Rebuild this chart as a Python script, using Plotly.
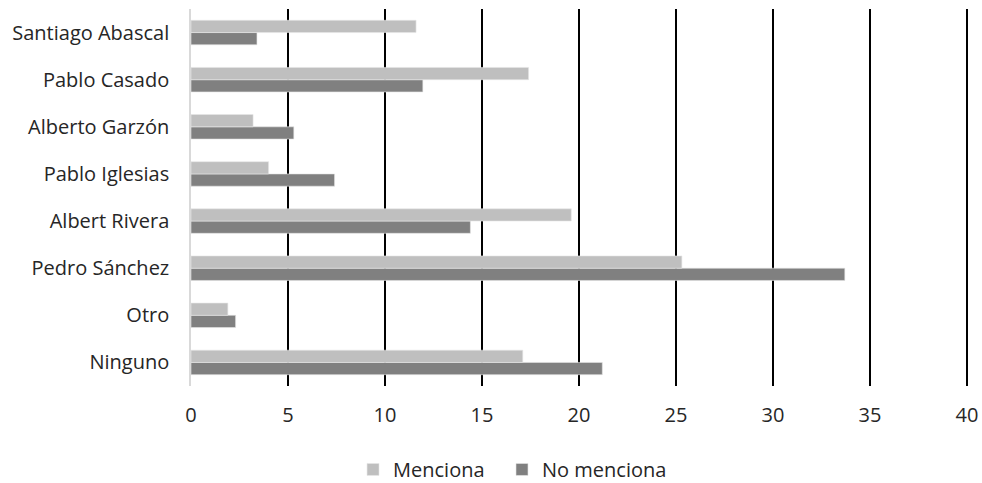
import plotly.graph_objects as go

categories = ["Santiago Abascal", "Pablo Casado", "Alberto Garzón", "Pablo Iglesias",
              "Albert Rivera", "Pedro Sánchez", "Otro", "Ninguno"]
menciona = [11.6, 17.4, 3.2, 4.0, 19.6, 25.3, 1.9, 17.1]
no_menciona = [3.4, 11.95, 5.3, 7.4, 14.4, 33.7, 2.3, 21.2]
x_ticks = [0, 5, 10, 15, 20, 25, 30, 35, 40]

fig = go.Figure()
fig.add_trace(go.Bar(y=categories, x=no_menciona, name="No menciona", orientation="h",
                     marker=dict(color="#808080", line=dict(color="#e6e6e6", width=0.6)),
                     legend="legend2"))
fig.add_trace(go.Bar(y=categories, x=menciona, name="Menciona", orientation="h",
                     marker=dict(color="#bfbfbf", line=dict(color="#e6e6e6", width=0.6)),
                     legend="legend"))

font_family = "Open Sans, Noto Sans, sans-serif"
leg_common = dict(orientation="h", xref="container", yref="container", y=0.028,
                  xanchor="left", yanchor="middle", font=dict(size=20), itemwidth=30,
                  bgcolor="rgba(0,0,0,0)")
fig.update_layout(
    width=982, height=483,
    margin=dict(l=191, r=13, t=9, b=97, autoexpand=False),
    plot_bgcolor="white", paper_bgcolor="white",
    barmode="group", bargap=0.48, bargroupgap=0,
    font=dict(family=font_family, size=20, color="#262626"),
    xaxis=dict(range=[0, 40.1], tickvals=x_ticks, showgrid=True, gridcolor="black",
               gridwidth=1.5, zeroline=False, showline=False, ticks="",
               ticklabelstandoff=15, tickfont=dict(size=20), automargin=False),
    yaxis=dict(categoryorder="array", categoryarray=categories[::-1], showgrid=False,
               showline=True, linecolor="#d9d9d9", linewidth=1.5, ticks="",
               ticklabelstandoff=16, tickfont=dict(size=20), automargin=False),
    legend=dict(x=0.3595, **leg_common),
    legend2=dict(x=0.5112, **leg_common),
    showlegend=True,
)
fig.write_html("out.html", config={"displayModeBar": False},
               post_script="document.body.style.margin='0';document.body.style.overflow='hidden';")
